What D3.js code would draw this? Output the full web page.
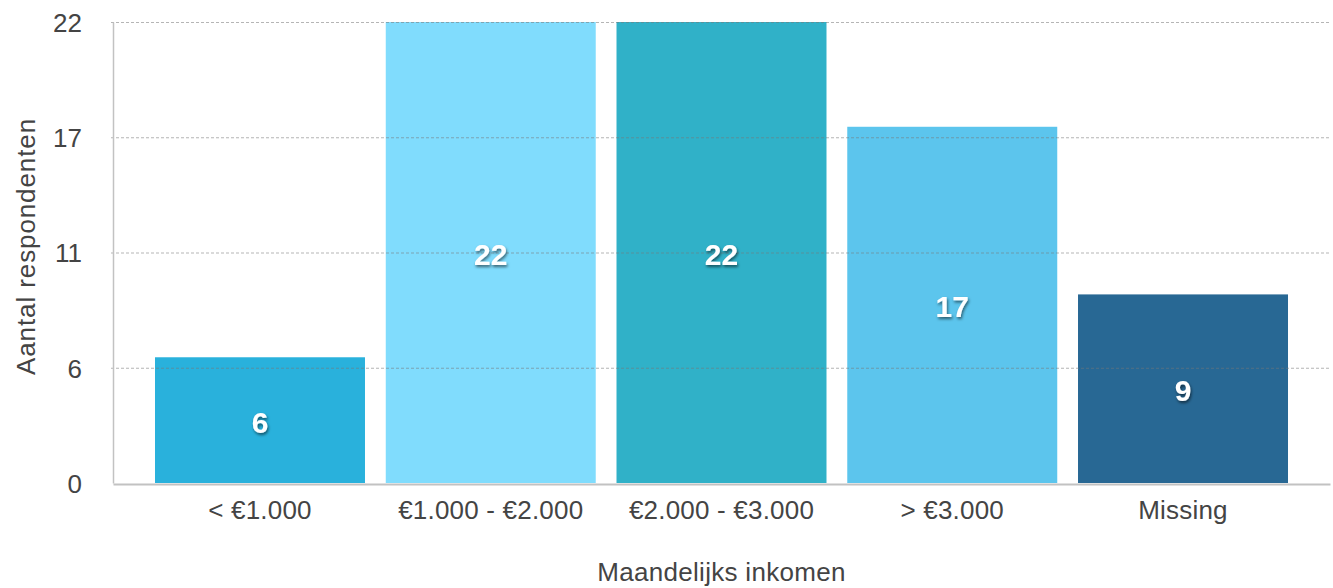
<!doctype html>
<html>
<head>
<meta charset="utf-8">
<title>Maandelijks inkomen</title>
<script src="https://cdn.jsdelivr.net/npm/d3@7"></script>
<style>
    html, body { margin: 0; padding: 0; background: #fff; }
    svg { display: block; font-family: "Liberation Sans", Arial, sans-serif; }
</style>
</head>
<body>
<svg id="chart" width="1333" height="588"></svg>
<script>
// data
var categories = ['< €1.000', '€1.000 - €2.000', '€2.000 - €3.000', '> €3.000', 'Missing'];
var counts = [6, 22, 22, 17, 9];
var barColors = ['#29b1dc', '#80dcfd', '#30b1c8', '#5cc5ed', '#286894'];
var yTickValues = [0, 5.5, 11, 16.5, 22];
var yTickLabels = ['0', '6', '11', '17', '22'];

var svg = d3.select('#chart');
var margin = {left: 113, right: 3, top: 22, bottom: 105};
var width = 1333 - margin.left - margin.right;
var height = 588 - margin.top - margin.bottom;

var x = d3.scaleBand().domain(categories).range([0, width])
    .paddingInner(0.09).paddingOuter(0.182);
var y = d3.scaleLinear().domain([0, 22]).range([height, 0]);

var defs = svg.append('defs');
var shadow = defs.append('filter').attr('id', 'shadow')
    .attr('x', '-30%').attr('y', '-30%').attr('width', '160%').attr('height', '160%');
shadow.append('feDropShadow').attr('dx', 1).attr('dy', 2)
    .attr('stdDeviation', 1.4).attr('flood-color', '#000').attr('flood-opacity', 0.55);

var g = svg.append('g').attr('transform', 'translate(' + margin.left + ',' + margin.top + ')');

// bars
g.selectAll('rect.bar').data(counts).enter().append('rect')
    .attr('class', 'bar')
    .attr('x', function(d, i) { return x(categories[i]); })
    .attr('y', function(d) { return y(d); })
    .attr('width', x.bandwidth())
    .attr('height', function(d) { return height - y(d); })
    .attr('fill', function(d, i) { return barColors[i]; });

// grid (over the bars)
var yGrid = d3.axisLeft(y).tickValues(yTickValues.slice(1)).tickSize(-(width + 3)).tickFormat('');
g.append('g').attr('class', 'grid')
    .attr('transform', 'translate(-2,0)')
    .call(yGrid)
    .call(function(s) {
        s.select('.domain').remove();
        s.selectAll('line').attr('stroke', 'rgba(120,120,120,0.55)')
            .attr('stroke-width', 1).attr('stroke-dasharray', '3,2');
    });

// y axis
var yAxis = d3.axisLeft(y).tickValues(yTickValues)
    .tickFormat(function(d, i) { return yTickLabels[i]; })
    .tickSize(0).tickPadding(31);
g.append('g').call(yAxis)
    .call(function(s) {
        s.select('.domain').attr('stroke', '#c2c2c2').attr('stroke-width', 1.5);
        s.selectAll('text').attr('fill', '#444').style('font-size', '26px')
            .attr('dy', '0.36em');
    });

// x axis
var xAxis = d3.axisBottom(x).tickSize(0).tickPadding(17);
g.append('g').attr('transform', 'translate(0,' + (height + 1) + ')')
    .call(xAxis)
    .call(function(s) {
        s.select('.domain').attr('stroke', '#c2c2c2').attr('stroke-width', 2);
        s.selectAll('text').attr('fill', '#444').style('font-size', '26px')
            .style('letter-spacing', '0.2px');
    });

// value labels
g.selectAll('text.value').data(counts).enter().append('text')
    .attr('class', 'value')
    .attr('x', function(d, i) { return x(categories[i]) + x.bandwidth() / 2; })
    .attr('y', function(d) { return (y(d) + height) / 2; })
    .attr('dy', '0.42em')
    .attr('text-anchor', 'middle')
    .attr('fill', '#fff')
    .style('font-size', '30px')
    .style('font-weight', 'bold')
    .attr('filter', 'url(#shadow)')
    .text(function(d) { return d; });

// axis titles
svg.append('text')
    .attr('x', margin.left + width / 2).attr('y', 581)
    .attr('text-anchor', 'middle').attr('fill', '#444')
    .style('font-size', '26px').style('letter-spacing', '0.3px')
    .text('Maandelijks inkomen');

svg.append('text')
    .attr('transform', 'translate(35,' + (margin.top + height / 2 - 6) + ') rotate(-90)')
    .attr('text-anchor', 'middle').attr('fill', '#444')
    .style('font-size', '26px').style('letter-spacing', '0.9px')
    .text('Aantal respondenten');
</script>
</body>
</html>
